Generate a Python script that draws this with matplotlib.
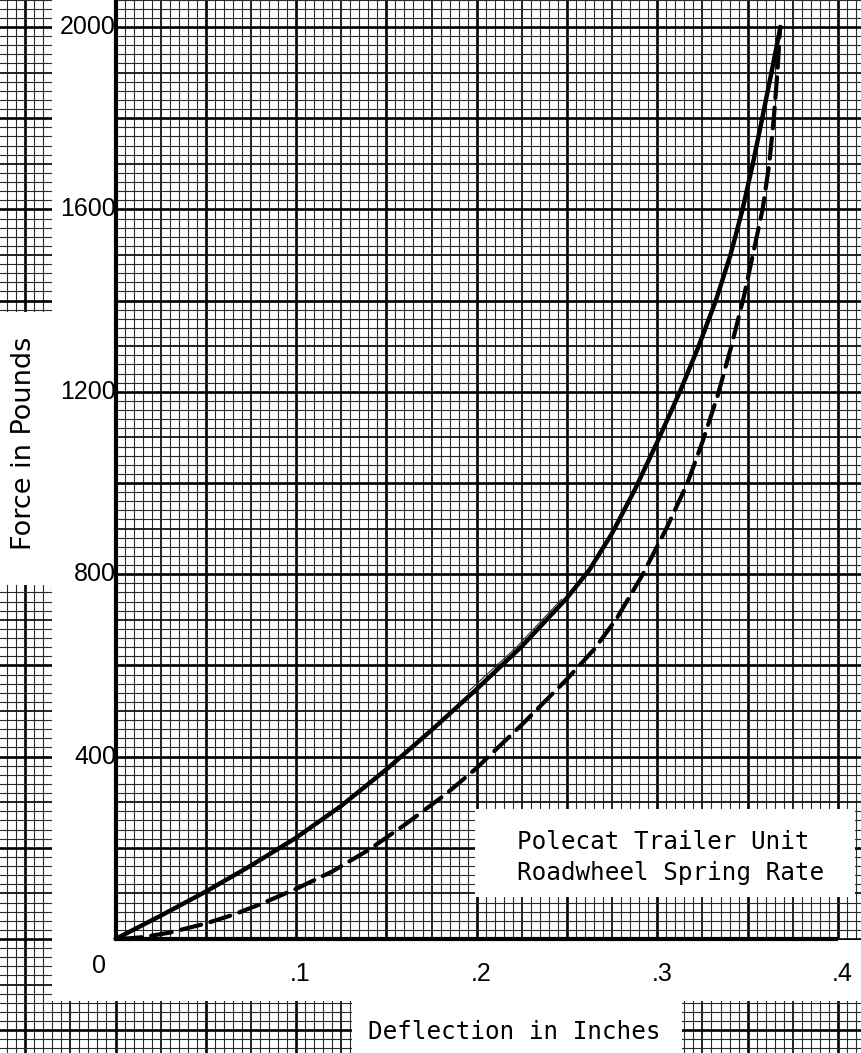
import matplotlib
matplotlib.use("Agg")
import matplotlib.pyplot as plt
import numpy as np
from matplotlib.patches import Rectangle

# ---------------- data ----------------
loading_x = [0.000, 0.025, 0.050, 0.075, 0.100, 0.125, 0.150, 0.175, 0.200, 0.225,
             0.250, 0.2625, 0.275, 0.2875, 0.300, 0.3125, 0.3229, 0.3324, 0.3405,
             0.3472, 0.3529, 0.3581, 0.3632, 0.3682]
loading_y = [0, 51, 104, 161, 222, 292, 372, 458, 548, 642,
             748, 810, 890, 985, 1090, 1200, 1300, 1400, 1500,
             1600, 1700, 1800, 1900, 2000]

unloading_x = [0.003, 0.015, 0.030, 0.050, 0.065, 0.080, 0.100, 0.120, 0.140, 0.160,
               0.183, 0.200, 0.225, 0.250, 0.265, 0.2777, 0.292, 0.305, 0.3167,
               0.325, 0.3333, 0.341, 0.348, 0.3537, 0.3583, 0.3620, 0.3645,
               0.3665, 0.3680]
unloading_y = [0, 4, 14, 34, 53, 76, 110, 148, 195, 250,
               318, 375, 470, 570, 635, 704, 800, 900, 1000,
               1090, 1190, 1300, 1410, 1515, 1600, 1700, 1800,
               1900, 2000]

pencil_x = [0.196, 0.222, 0.247]
pencil_y = [545, 640, 745]

y_ticks = [400, 800, 1200, 1600, 2000]
y_tick_labels = ["400", "800", "1200", "1600", "2000"]
x_ticks = [0.1, 0.2, 0.3, 0.4]
x_tick_labels = [".1", ".2", ".3", ".4"]
origin_label = "0"

title_lines = ["Polecat Trailer Unit", "Roadwheel Spring Rate"]
x_label = "Deflection in Inches"
y_label = "Force in Pounds"

# ---------------- geometry ----------------
W, H, DPI = 861, 1053, 100
X0, XS = 115.5, 1806.0   # pixel of x=0, pixels per inch
Y0, YS = 939.0, 0.456    # pixel of y=0, pixels per pound


def dx(px):
    return (px - X0) / XS


def dy(py):
    return (Y0 - py) / YS


fig = plt.figure(figsize=(W / DPI, H / DPI), dpi=DPI)
fig.patch.set_facecolor("white")
ax = fig.add_axes([0, 0, 1, 1])
ax.set_xlim(dx(0), dx(W))
ax.set_ylim(dy(H), dy(0))
ax.axis("off")

# graph paper
for i in range(-13, 84):
    xv = i * 0.005
    if i % 10 == 0:
        lw, c = 1.9, "black"
    elif i % 5 == 0:
        lw, c = 1.3, "#111111"
    else:
        lw, c = 0.8, "#2a2a2a"
    ax.axvline(xv, lw=lw, color=c, zorder=1)
for j in range(-13, 104):
    yv = j * 20
    if j % 10 == 0:
        lw, c = 1.9, "black"
    elif j % 5 == 0:
        lw, c = 1.3, "#111111"
    else:
        lw, c = 0.8, "#2a2a2a"
    ax.axhline(yv, lw=lw, color=c, zorder=1)


def white_box(px0, py0, px1, py1):
    ax.add_patch(Rectangle((dx(px0), dy(py1)), dx(px1) - dx(px0), dy(py0) - dy(py1),
                           facecolor="white", edgecolor="none", zorder=2))


white_box(52, -5, 115, 1001)     # left strip for tick labels
white_box(-5, 312, 52, 585)      # y label
white_box(52, 940, W + 5, 1001)  # bottom strip for x tick labels
white_box(352, 1001, 682, H + 5) # x label
white_box(475, 809, 855, 897)    # title box

# axes lines
ax.plot([0, 0], [0, dy(-5)], color="black", lw=3.0, zorder=3, solid_capstyle="butt")
ax.plot([0, 0.4], [0, 0], color="black", lw=3.0, zorder=3, solid_capstyle="butt")

# curves
ax.plot(loading_x, loading_y, color="black", lw=3.2, zorder=4,
        solid_capstyle="round", solid_joinstyle="round")
ax.plot(unloading_x, unloading_y, color="black", lw=3.0, zorder=4,
        linestyle=(0, (5, 2.3)), dash_capstyle="round")
ax.plot(pencil_x, pencil_y, color="#333333", lw=0.8, zorder=4)

# tick labels
num_font = dict(family="Liberation Sans", fontsize=18, color="black")
for v, lab in zip(y_ticks, y_tick_labels):
    ax.text(dx(116), v, lab, ha="right", va="center", zorder=2.5, **num_font)
ax.text(dx(99), dy(966), origin_label, ha="center", va="center", zorder=5, **num_font)
for v, lab in zip(x_ticks, x_tick_labels):
    ax.text(v - 6 / XS, dy(974), lab, ha="left", va="center", zorder=5, **num_font)

# labels
mono = dict(family="DejaVu Sans Mono", fontsize=17.5, color="black")
ax.text(dx(517), dy(842), title_lines[0], ha="left", va="center", zorder=5, **mono)
ax.text(dx(517), dy(873), title_lines[1], ha="left", va="center", zorder=5, **mono)
ax.text(dx(368), dy(1032), x_label, ha="left", va="center", zorder=5, **mono)
ax.text(dx(24), dy(443), y_label, ha="center", va="center", rotation=90, zorder=5,
        family="DejaVu Sans", fontsize=19.5, color="black")

fig.savefig("out.png", dpi=DPI, facecolor="white")
